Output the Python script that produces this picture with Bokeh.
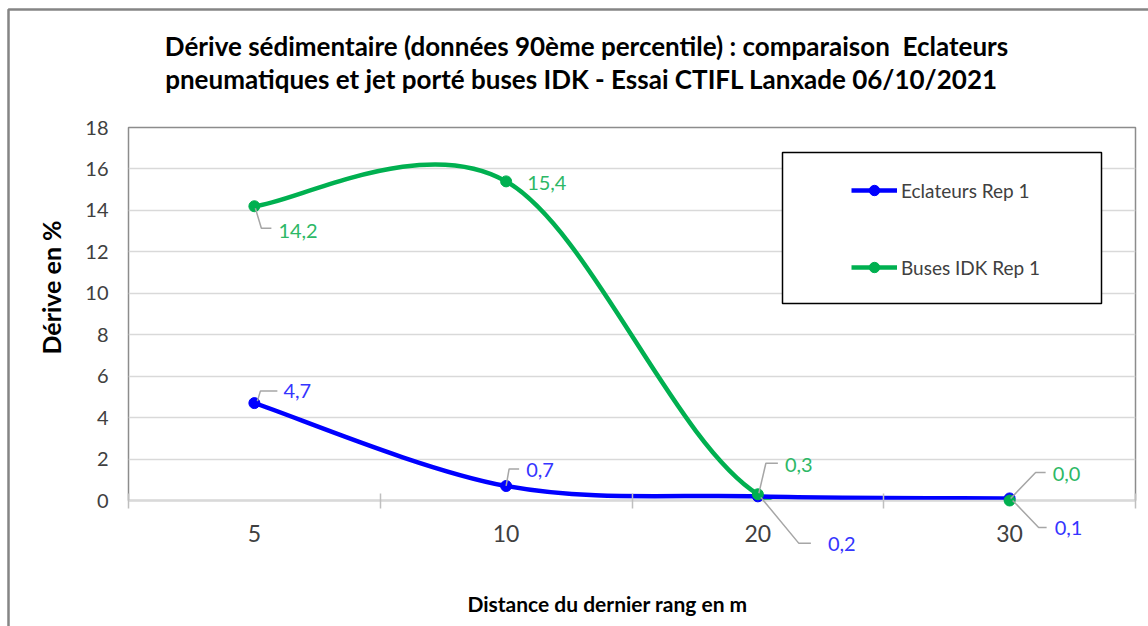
import math
from bokeh.plotting import figure
from bokeh.models import (ColumnDataSource, FixedTicker, Legend, LegendItem,
                          BoxAnnotation, Range1d)
from bokeh.core.properties import value
from bokeh.embed import file_html
from bokeh.resources import INLINE

# ---------------- data ----------------
categories = ["5", "10", "20", "30"]
eclateurs = [4.7, 0.7, 0.2, 0.1]
buses = [14.2, 15.4, 0.3, 0.0]
series_names = ["Eclateurs Rep 1", "Buses IDK Rep 1"]
y_ticks = [0, 2, 4, 6, 8, 10, 12, 14, 16, 18]
title_lines = ["Dérive sédimentaire (données 90ème percentile) : comparaison\u00a0 Eclateurs",
               "pneumatiques et jet porté buses IDK - Essai CTIFL Lanxade 06/10/2021"]
x_title = "Distance du dernier rang en m"
y_title = "Dérive en %"

# ---------------- layout / style ----------------
W, H = 1148, 626
ML, MR, MT, MB = 128, 13, 127, 126
FW, FH = W - ML - MR, H - MT - MB
PX_X = FW / len(categories)
PX_Y = FH / (y_ticks[-1] - y_ticks[0])

BLUE, GREEN = "#0000FF", "#00B050"
BLUE_TXT, GREEN_TXT = "#3535FF", "#2DB866"
FONT = "Lato"
TXT = "#404040"

# data label offsets in px (dx right, dy up) and leader lines (px offsets from the point)
blue_label_off = [(29, 12), (20, 16), (70, -48), (45, -30)]
green_label_off = [(24, -25), (21, -2), (27, 29), (43, 27)]
blue_leaders = [[(3, 2), (6, 12), (23, 12)], [(0, 0), (3, 17), (13, 17)],
                [(3, -1), (41, -47), (53, -47)], [(3, -2), (29, -29), (37, -29)]]
green_leaders = [[(1, -2), (7, -22), (17, -22)], None,
                 [(1, 1), (8, 31), (20, 31)], [(1, 2), (26, 28), (36, 28)]]
# title line centres and axis title centres in page pixels
title_pos = [(586, 45), (581, 78)]
xtitle_pos = (607, 603)
ytitle_pos = (50, 287)
# chart-area border (left and top edges) in page pixels
border_px = [[(8, 626), (8, 9), (1148, 9)]]

xs = [i + 0.5 for i in range(len(categories))]


def smooth(x, y, k=1 / 6):
    n = len(x)
    d = dict(x0=[], y0=[], x1=[], y1=[], cx0=[], cy0=[], cx1=[], cy1=[])
    for i in range(n - 1):
        a, b = max(i - 1, 0), min(i + 2, n - 1)
        d["x0"].append(x[i]); d["y0"].append(y[i])
        d["x1"].append(x[i + 1]); d["y1"].append(y[i + 1])
        d["cx0"].append(x[i] + (x[i + 1] - x[a]) * k)
        d["cy0"].append(y[i] + (y[i + 1] - y[a]) * k)
        d["cx1"].append(x[i + 1] - (x[b] - x[i]) * k)
        d["cy1"].append(y[i + 1] - (y[b] - y[i]) * k)
    return d


def fmt(v):
    return f"{v:.1f}".replace(".", ",")


def px_to_data(px, py):
    return (px - ML) / PX_X, y_ticks[0] + (MT + FH - py) / PX_Y


p = figure(width=W, height=H, x_range=Range1d(0, len(categories)),
           y_range=Range1d(y_ticks[0], y_ticks[-1]),
           output_backend="svg", toolbar_location=None,
           min_border_left=ML, min_border_right=MR, min_border_top=MT, min_border_bottom=MB)
p.background_fill_color = "white"
p.border_fill_color = "white"
p.outline_line_color = "#8c8c8c"
p.outline_line_width = 1.5

# axes
p.xaxis.ticker = FixedTicker(ticks=xs, minor_ticks=list(range(len(categories) + 1)))
p.xaxis.major_label_overrides = {x: c for x, c in zip(xs, categories)}
p.xaxis.major_tick_line_color = None
p.xaxis.major_tick_out = 0
p.xaxis.major_tick_in = 0
p.xaxis.minor_tick_line_color = "#bfbfbf"
p.xaxis.minor_tick_line_width = 1.5
p.xaxis.minor_tick_in = 7
p.xaxis.minor_tick_out = 8
p.xaxis.axis_line_color = "#d9d9d9"
p.xaxis.axis_line_width = 1.5
p.xaxis.major_label_standoff = 16
p.xaxis.major_label_text_font = FONT
p.xaxis.major_label_text_font_size = "23px"
p.xaxis.major_label_text_color = TXT

p.yaxis.ticker = FixedTicker(ticks=y_ticks)
p.yaxis.axis_line_color = None
p.yaxis.major_tick_line_color = None
p.yaxis.major_tick_out = 0
p.yaxis.major_tick_in = 0
p.yaxis.minor_tick_line_color = None
p.yaxis.major_label_standoff = 20
p.yaxis.major_label_text_font = FONT
p.yaxis.major_label_text_font_size = "20px"
p.yaxis.major_label_text_color = TXT

p.xgrid.visible = False
p.ygrid.ticker = FixedTicker(ticks=y_ticks)
p.ygrid.grid_line_color = "#d9d9d9"
p.ygrid.grid_line_width = 1.5

# smoothed lines
g_src = ColumnDataSource(smooth(xs, buses))
b_src = ColumnDataSource(smooth(xs, eclateurs))
g_line = p.bezier(x0="x0", y0="y0", x1="x1", y1="y1", cx0="cx0", cy0="cy0", cx1="cx1", cy1="cy1",
                  source=g_src, line_color=GREEN, line_width=4.5)
b_line = p.bezier(x0="x0", y0="y0", x1="x1", y1="y1", cx0="cx0", cy0="cy0", cx1="cx1", cy1="cy1",
                  source=b_src, line_color=BLUE, line_width=4.5)
b_pts = p.scatter(xs, eclateurs, size=11, color=BLUE, level="overlay")
g_pts = p.scatter(xs, buses, size=11, color=GREEN, level="overlay")

# leader lines
lx, ly = [], []
for vals, leaders in ((eclateurs, blue_leaders), (buses, green_leaders)):
    for x, v, ld in zip(xs, vals, leaders):
        if ld is None:
            continue
        lx.append([x + dx / PX_X for dx, dy in ld])
        ly.append([v + dy / PX_Y for dx, dy in ld])
p.multi_line(lx, ly, line_color="#a6a6a6", line_width=1.5, level="overlay")

# data labels
for vals, offs, col in ((eclateurs, blue_label_off, BLUE_TXT), (buses, green_label_off, GREEN_TXT)):
    src = ColumnDataSource(dict(x=xs, y=vals, text=[fmt(v) for v in vals],
                                xo=[o[0] for o in offs], yo=[-o[1] for o in offs]))
    p.text(x="x", y="y", text="text", x_offset="xo", y_offset="yo", source=src,
           text_align="left", text_baseline="middle", text_color=col,
           text_font=value(FONT), text_font_size="20px", level="overlay")

# legend frame + legend
bl, bt = px_to_data(782, 152)
br, bb = px_to_data(1101, 303)
p.add_layout(BoxAnnotation(left=bl, right=br, top=bt, bottom=bb,
                           fill_color="white", fill_alpha=1, line_color="#000000",
                           line_alpha=1, line_width=1.5, level="annotation"))
legend = Legend(items=[LegendItem(label=series_names[0], renderers=[b_line, b_pts]),
                       LegendItem(label=series_names[1], renderers=[g_line, g_pts])],
                location=(851 - ML, MT + FH - 280), padding=0, margin=0, spacing=51,
                label_height=26, glyph_height=26, glyph_width=46, label_standoff=4,
                border_line_color=None, background_fill_alpha=0,
                label_text_font=FONT, label_text_font_size="19px", label_text_color=TXT)
p.add_layout(legend)

# title and axis titles
tx, ty = zip(*[px_to_data(a, b) for a, b in title_pos])
p.text(x=list(tx), y=list(ty), text=title_lines, text_align="center", text_baseline="middle",
       text_font=value(FONT), text_font_style="bold", text_font_size="26px",
       text_color="#000000", level="overlay")
xtx, xty = px_to_data(*xtitle_pos)
p.text(x=[xtx], y=[xty], text=[x_title], text_align="center", text_baseline="middle",
       text_font=value(FONT), text_font_style="bold", text_font_size="21px",
       text_color="#000000", level="overlay")
ytx, yty = px_to_data(*ytitle_pos)
p.text(x=[ytx], y=[yty], text=[y_title], angle=math.pi / 2, text_align="center",
       text_baseline="middle", text_font=value(FONT), text_font_style="bold",
       text_font_size="25px", text_color="#000000", level="overlay")

# chart-area border
bx = [[px_to_data(a, b)[0] for a, b in line] for line in border_px]
by = [[px_to_data(a, b)[1] for a, b in line] for line in border_px]
p.multi_line(bx, by, line_color="#858585", line_width=2.5, level="overlay")

open("out.html", "w").write(file_html(p, INLINE))
